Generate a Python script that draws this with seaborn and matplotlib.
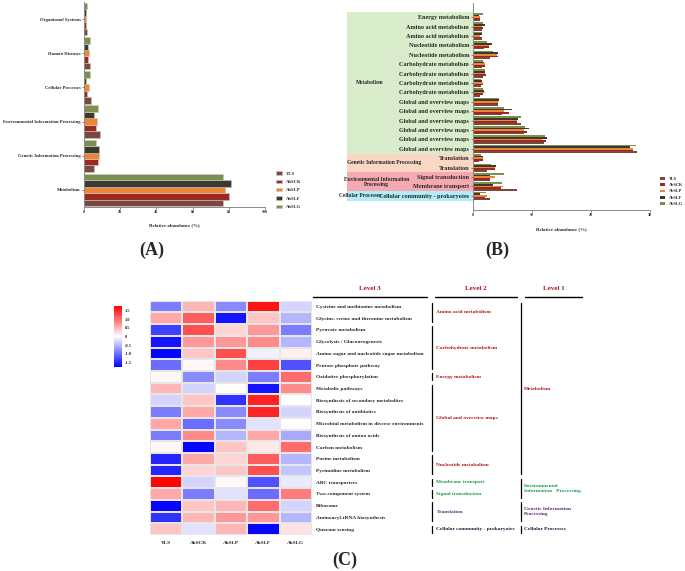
import numpy as np
import pandas as pd
import matplotlib
matplotlib.use("Agg")
import matplotlib.pyplot as plt
import matplotlib.transforms as mtrans
import seaborn as sns

# =========================
# DATA
# =========================
samples = ["YLS", "AbSCK", "AbSLP", "AbSLF", "AbSLG"]
sample_colors = ["#7a4841", "#9c2723", "#ef8534", "#3b3a2f", "#7c8f4f"]

# (A) level 1, listed bottom to top
a_cats = ["Metabolism", "Genetic Information Processing",
          "Environmental Information Processing", "Cellular Processes",
          "Human Diseases", "Organismal Systems"]
a_yls   = [76.6, 5.7, 8.9, 3.9, 3.3, 1.5]
a_abSCK = [79.9, 7.9, 6.5, 1.8, 2.4, 1.1]
a_abSLP = [78.0, 8.1, 7.2, 2.6, 2.6, 1.3]
a_abSLF = [81.4, 8.5, 5.4, 1.3, 2.0, 0.9]
a_abSLG = [76.9, 6.8, 7.9, 3.5, 3.1, 1.5]

# (B) level 2, listed top to bottom
b_labels = ["Energy metabolism", "Amino acid metabolism", "Amino acid metabolism",
            "Nucleotide metabolism", "Nucleotide metabolism",
            "Carbohydrate metabolism", "Carbohydrate metabolism",
            "Carbohydrate metabolism", "Carbohydrate metabolism",
            "Global and overview maps", "Global and overview maps",
            "Global and overview maps", "Global and overview maps",
            "Global and overview maps", "Global and overview maps",
            "Translation", "Translation", "Signal transduction",
            "Membrane transport", "Cellular community - prokaryotes"]
b_level1 = ["Metabolism"] * 15 + ["Genetic Information Processing"] * 2 + \
           ["Environmental Information Processing"] * 2 + ["Cellular Processes"]
b_yls   = [1.2, 1.5, 1.5, 1.9, 3.0, 1.5, 1.7, 1.35, 1.2, 4.3, 5.0, 8.2, 8.7, 12.0, 27.7, 1.1, 2.5, 2.9, 7.4, 2.9]
b_abSCK = [1.3, 1.8, 1.5, 2.7, 4.2, 2.0, 2.2, 1.7, 1.8, 4.2, 6.2, 7.5, 9.1, 12.3, 27.0, 1.7, 3.7, 3.0, 4.7, 2.0]
b_abSLP = [1.3, 1.6, 1.2, 2.8, 4.1, 2.0, 2.0, 1.7, 2.1, 4.3, 5.3, 7.4, 8.7, 11.7, 27.1, 1.8, 3.7, 3.7, 5.2, 2.5]
b_abSLF = [1.1, 2.0, 1.5, 3.3, 4.3, 1.9, 2.0, 1.5, 1.9, 4.4, 6.7, 7.7, 9.5, 12.6, 26.6, 1.8, 4.0, 3.0, 3.5, 1.2]
b_abSLG = [1.8, 1.8, 1.5, 2.5, 3.5, 1.7, 2.0, 1.35, 1.8, 4.4, 5.3, 8.1, 8.8, 12.2, 27.5, 1.35, 3.1, 5.3, 4.9, 2.3]
b_shade = {"Metabolism": "#d9edcd", "Genetic Information Processing": "#f9d7c2",
           "Environmental Information Processing": "#f6a9b1", "Cellular Processes": "#b3ebf7"}
b_shade_text = {"Metabolism": "Metabolism",
                "Genetic Information Processing": "Genetic Information Processing",
                "Environmental Information Processing": "Environmental Information\nProcessing",
                "Cellular Processes": "Cellular Processes"}

# (C) heatmap, level 3 pathways top to bottom
c_rows = ["Cysteine and methionine metabolism", "Glycine, serine and threonine metabolism",
          "Pyruvate metabolism", "Glycolysis / Gluconeogenesis",
          "Amino sugar and nucleotide sugar metabolism", "Pentose phosphate pathway",
          "Oxidative phosphorylation", "Metabolic pathways",
          "Biosynthesis of secondary metabolites", "Biosynthesis of antibiotics",
          "Microbial metabolism in diverse environments", "Biosynthesis of amino acids",
          "Carbon metabolism", "Purine metabolism", "Pyrimidine metabolism",
          "ABC transporters", "Two-component system", "Ribosome",
          "Aminoacyl-tRNA biosynthesis", "Quorum sensing"]
c_yls   = [-0.9, 0.6, -1.3, -1.6, -1.7, -1.0, 0.05, 0.5, -0.3, -0.9, 0.6, -0.9, 0.05, -1.5, -1.5, 1.7, 0.6, -1.7, -1.4, 0.4]
c_abSCK = [0.5, 1.1, 1.2, 0.7, 0.4, 0.05, -0.8, -0.3, 0.4, 0.6, -1.0, 0.8, -1.7, 0.6, 0.3, -0.3, -0.9, 0.4, 0.5, -0.2]
c_abSLP = [-0.8, -1.6, 0.3, 0.7, 1.2, 0.8, -0.3, 0.0, -1.4, -0.8, -0.8, -0.5, 0.4, 0.3, 0.4, 0.05, -0.2, 0.5, 0.7, 0.5]
c_abSLF = [1.6, 0.4, 0.7, 0.8, -0.1, 1.3, -0.9, -1.6, 1.5, 1.5, -0.2, 0.6, 0.15, 1.1, 1.2, -1.2, -1.0, 1.0, 0.7, -1.7]
c_abSLG = [-0.3, -0.5, -0.9, -0.5, 0.1, -1.2, 1.0, 0.8, 0.0, -0.3, 0.0, -0.6, 1.0, -0.5, -0.4, -0.15, 0.9, -0.3, -0.5, 0.2]

RED, GREEN, PURPLE, NAVY = "#b5121b", "#1a9950", "#5b2a78", "#1c1c3a"
level2_groups = [("Amino acid metabolism", 0, 1, RED), ("Carbohydrate metabolism", 2, 5, RED),
                 ("Energy metabolism", 6, 6, RED), ("Global and overview maps", 7, 12, RED),
                 ("Nucleotide metabolism", 13, 14, RED), ("Membrane transport", 15, 15, GREEN),
                 ("Signal transduction", 16, 16, GREEN), ("Translation", 17, 18, PURPLE),
                 ("Cellular community - prokaryotes", 19, 19, NAVY)]
level1_groups = [("Metabolism", 0, 14, RED),
                 ("Environmental\nInformation   Processing", 15, 16, GREEN),
                 ("Genetic Information\nProcessing", 17, 18, PURPLE),
                 ("Cellular Processes", 19, 19, NAVY)]

# =========================
# STYLE
# =========================
sns.set_style("ticks")
plt.rcParams["font.family"] = ["Liberation Serif", "DejaVu Serif"]
plt.rcParams["font.weight"] = "bold"
plt.rcParams["axes.labelweight"] = "bold"

W, H = 685, 571
fig = plt.figure(figsize=(W / 100, H / 100), dpi=100)

def px_axes(x0, y0, x1, y1):
    return fig.add_axes([x0 / W, 1 - y1 / H, (x1 - x0) / W, (y1 - y0) / H])

def style_bar_axes(ax):
    sns.despine(ax=ax)
    for s in ["left", "bottom"]:
        ax.spines[s].set_color("#8a8a8a")
        ax.spines[s].set_linewidth(0.7)
    ax.tick_params(length=1.5, width=0.5, color="#555555", pad=1)

# =========================
# (A)
# =========================
dfa = pd.DataFrame({"cat": a_cats, "YLS": a_yls, "AbSCK": a_abSCK,
                    "AbSLP": a_abSLP, "AbSLF": a_abSLF, "AbSLG": a_abSLG})
dfa = dfa.melt(id_vars="cat", var_name="sample", value_name="val")

axA = px_axes(84, 2, 265, 207)
sns.barplot(data=dfa, x="val", y="cat", hue="sample", order=a_cats, hue_order=samples,
            palette=sample_colors, saturation=1, width=0.95, orient="h",
            edgecolor="#c8c8c8", linewidth=0.4, ax=axA)
axA.invert_yaxis()
axA.set_xlim(0, 100)
axA.set_xticks([0, 20, 40, 60, 80, 100])
axA.set_ylabel("")
axA.set_xlabel("Relative abundance (%)", fontsize=3.5, labelpad=6)
style_bar_axes(axA)
axA.tick_params(axis="y", labelsize=3.3, pad=0.8)
axA.tick_params(axis="x", labelsize=3)
h, l = axA.get_legend_handles_labels()
axA.legend(h, l, loc="lower left", bbox_to_anchor=(1.04, -0.03), frameon=False,
           fontsize=3.3, handlelength=1.3, handleheight=0.7, labelspacing=0.9)

# =========================
# (B)
# =========================
keys = [f"r{i:02d}" for i in range(len(b_labels))]
dfb = pd.DataFrame({"row": keys, "YLS": b_yls, "AbSCK": b_abSCK,
                    "AbSLP": b_abSLP, "AbSLF": b_abSLF, "AbSLG": b_abSLG})
dfb = dfb.melt(id_vars="row", var_name="sample", value_name="val")

axB = px_axes(472.7, 3, 650.3, 210)
sns.barplot(data=dfb, x="val", y="row", hue="sample", order=keys[::-1], hue_order=samples,
            palette=sample_colors, saturation=1, width=0.88, orient="h",
            edgecolor="none", ax=axB)
axB.invert_yaxis()
axB.set_xlim(0, 30)
axB.set_xticks([0, 10, 20, 30])
axB.set_ylabel("")
axB.set_yticks(range(len(keys)))
axB.set_yticklabels(b_labels[::-1])
axB.set_xlabel("Relative abundance (%)", fontsize=3.5, labelpad=7)
axB.tick_params(axis="y", labelsize=4.4)
axB.tick_params(axis="x", labelsize=3)
style_bar_axes(axB)
h, l = axB.get_legend_handles_labels()
axB.legend(h, l, loc="lower left", bbox_to_anchor=(1.03, 0.0), frameon=False,
           fontsize=3.1, handlelength=1.3, handleheight=0.6, labelspacing=0.55)

# level 1 shading behind the labels
lvl_rev = b_level1[::-1]
for name in b_shade:
    idx = [i for i, v in enumerate(lvl_rev) if v == name]
    lo, hi = min(idx) - 0.5, max(idx) + 0.5
    axB.axhspan(lo, hi, xmin=-0.71, xmax=0, color=b_shade[name], clip_on=False, zorder=-5, lw=0)
    xpos = {"Metabolism": -0.58, "Genetic Information Processing": -0.50,
            "Environmental Information Processing": -0.54, "Cellular Processes": -0.635}[name]
    axB.text(xpos, (lo + hi) / 2, b_shade_text[name], transform=mtrans.blended_transform_factory(axB.transAxes, axB.transData),
             ha="center", va="center", fontsize=4.0, linespacing=1.1)

# =========================
# (C)
# =========================
dfc = pd.DataFrame({"YLS": c_yls, "AbSCK": c_abSCK, "AbSLP": c_abSLP,
                    "AbSLF": c_abSLF, "AbSLG": c_abSLG}, index=c_rows)

axC = px_axes(150, 300.7, 312, 535)
cax = px_axes(114, 306, 121.7, 367)
sns.heatmap(dfc, cmap="bwr", vmin=-1.75, vmax=1.75, linewidths=0.3, linecolor="#e6e6e6",
            xticklabels=True, yticklabels=True,
            ax=axC, cbar_ax=cax, cbar_kws={"ticks": [-1.5, -1, -0.5, 0, 0.5, 1, 1.5]})
axC.yaxis.tick_right()
axC.set_yticklabels(c_rows, rotation=0, fontsize=3.9, ha="left")
axC.set_xticklabels(samples, rotation=0, fontsize=3.8)
axC.tick_params(length=0, pad=3)
axC.tick_params(axis="x", pad=4)
cax.set_yticklabels(["-1.5", "-1.0", "-0.5", "0", "0.5", "1.0", "1.5"])
cax.tick_params(labelsize=3.2, length=0, pad=2)

tr = mtrans.blended_transform_factory(fig.transFigure, axC.transData)
head_y = -0.85
line_y = -0.3
for txt, x0, x1 in [("Level 3", 313, 427), ("Level 2", 435, 517), ("Level 1", 525, 582)]:
    axC.plot([x0 / W, x1 / W], [line_y, line_y], color="black", lw=1.0, transform=tr, clip_on=False)
    axC.text((x0 + x1) / 2 / W, head_y, txt, color="#a3141c", fontsize=5, ha="center",
             va="bottom", transform=tr)

for name, r0, r1, col in level2_groups:
    axC.plot([431.7 / W] * 2, [r0 + 0.2, r1 + 0.8], color="black", lw=0.9, transform=tr, clip_on=False)
    axC.text(436.5 / W, (r0 + r1) / 2 + 0.5, name, color=col, fontsize=3.9,
             ha="left", va="center", transform=tr)

for name, r0, r1, col in level1_groups:
    axC.plot([520.7 / W] * 2, [r0 + 0.2, r1 + 0.8], color="black", lw=0.9, transform=tr, clip_on=False)
    axC.text(524 / W, (r0 + r1) / 2 + 0.5, name, color=col, fontsize=3.9,
             ha="left", va="center", linespacing=1.3, transform=tr)

# =========================
# PANEL LABELS
# =========================
fig.text(152 / W, 1 - 250 / H, "(A)", fontsize=13, ha="center", va="center")
fig.text(497 / W, 1 - 250 / H, "(B)", fontsize=13, ha="center", va="center")
fig.text(345 / W, 1 - 560 / H, "(C)", fontsize=13, ha="center", va="center")

fig.savefig("out.png", dpi=100)
